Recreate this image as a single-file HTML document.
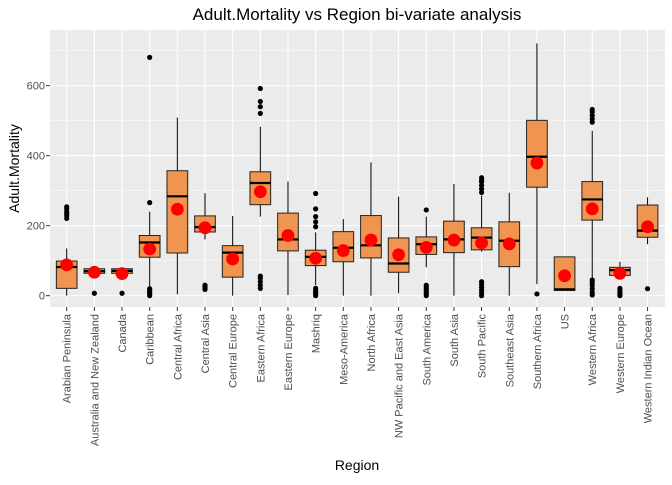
<!DOCTYPE html>
<html><head><meta charset="utf-8"><style>
body{margin:0;background:#fff;font-family:"Liberation Sans",sans-serif}
</style></head><body>
<svg id="chart" width="672" height="480" xmlns="http://www.w3.org/2000/svg"></svg>
<script>
const categories=["Arabian Peninsula","Australia and New Zealand","Canada","Caribbean","Central Africa","Central Asia","Central Europe","Eastern Africa","Eastern Europe","Mashriq","Meso-America","North Africa","NW Pacific and East Asia","South America","South Asia","South Pacific","Southeast Asia","Southern Africa","US","Western Africa","Western Europe","Western Indian Ocean"];
const lowWhisker=[0,64,64,26,4,161,0,226,2,30,0,0,7,81,0,126,0,33,15,50,58,147];
const q1=[21,64,64,110,122,182,53,260,128,86,97,108,67,118,123,131,83,310,15,216,58,167];
const medians=[82,70,71,152,284,196,123,322,161,111,137,144,92,147,161,166,157,397,18,275,73,186];
const q3=[99,77,77,172,357,228,143,354,236,130,183,229,165,168,213,194,211,501,111,326,81,259];
const highWhisker=[135,77,77,240,509,293,228,483,326,181,219,381,283,226,319,286,294,721,111,471,97,281];
const means=[88,67,63,133,247,194,105,297,172,107,129,159,117,138,159,151,148,379,57,248,64,197];
const outliers=[[221,228,234,240,248,254],[7],[7],[266,681,0,5,10,15,20],[],[18,22,26,30],[],[592,555,540,521,21,30,40,50,56],[],[292,248,226,211,197,0,5,10,15,21],[],[],[],[245,0,5,10,15,20,25,30],[],[295,305,315,325,330,337,0,8,16,24,32,40],[],[5],[],[496,505,515,525,532,2,10,20,30,38,45],[0,5,10,15,21],[20]];
const yTicks=[0,200,400,600];
const yMinor=[100,300,500,700];

const svg=document.getElementById('chart');const NS='http://www.w3.org/2000/svg';
const L=50,R=665,T=30,B=307;
const y=v=>295.7-v*0.35;
const x=i=>66.7+i*27.66;
function mk(tag,attrs,parent){const e=document.createElementNS(NS,tag);for(const k in attrs)e.setAttribute(k,attrs[k]);(parent||svg).appendChild(e);return e;}
const panel=mk('rect',{x:L,y:T,width:R-L,height:B-T,fill:'#ebebeb'});


yMinor.forEach(v=>{if(y(v)>T)mk('line',{x1:L,x2:R,y1:y(v),y2:y(v),stroke:'#fff','stroke-width':0.5});});
yTicks.forEach(v=>{mk('line',{x1:L,x2:R,y1:y(v),y2:y(v),stroke:'#fff','stroke-width':1.1});
 const t=mk('text',{x:45,y:y(v)+4,'text-anchor':'end','font-size':11,fill:'#4d4d4d'});t.textContent=v;
 
 
 mk('line',{x1:46,x2:L,y1:y(v),y2:y(v),stroke:'#333','stroke-width':1});});
categories.forEach((c,i)=>{mk('line',{x1:x(i),x2:x(i),y1:T,y2:B,stroke:'#fff','stroke-width':1.1});});
categories.forEach((c,i)=>{
 const g=mk('g',{});
 
 
 const cx=x(i),w=20.7;
 mk('line',{x1:cx,x2:cx,y1:y(highWhisker[i]),y2:y(q3[i]),stroke:'#000','stroke-width':1},g);
 mk('line',{x1:cx,x2:cx,y1:y(q1[i]),y2:y(lowWhisker[i]),stroke:'#000','stroke-width':1},g);
 mk('rect',{x:cx-w/2,y:y(q3[i]),width:w,height:Math.max(0.5,y(q1[i])-y(q3[i])),fill:'#f0954f',stroke:'#222','stroke-width':1},g);
 mk('line',{x1:cx-w/2,x2:cx+w/2,y1:y(medians[i]),y2:y(medians[i]),stroke:'#000','stroke-width':2.2},g);
 outliers[i].forEach(o=>mk('circle',{cx:cx,cy:y(o),r:2.6,fill:'#000'},g));
 const m=mk('circle',{cx:cx,cy:y(means[i]),r:6.4,fill:'#ff0000'},g);
 
 
 mk('line',{x1:cx,x2:cx,y1:B,y2:B+4,stroke:'#333','stroke-width':1});
 const t=mk('text',{x:0,y:0,'text-anchor':'end','font-size':11,fill:'#4d4d4d',transform:`translate(${cx+4},${B+7}) rotate(-90)`});
 t.textContent=c;
 
 
});
const title=mk('text',{x:357,y:20,'text-anchor':'middle','font-size':17,fill:'#000'});title.textContent='Adult.Mortality vs Region bi-variate analysis';


const xt=mk('text',{x:357,y:470,'text-anchor':'middle','font-size':14,fill:'#000'});xt.textContent='Region';


const yt=mk('text',{x:0,y:0,'text-anchor':'middle','font-size':14,fill:'#000',transform:`translate(19,${(T+B)/2}) rotate(-90)`});yt.textContent='Adult.Mortality';


</script>
</body></html>
